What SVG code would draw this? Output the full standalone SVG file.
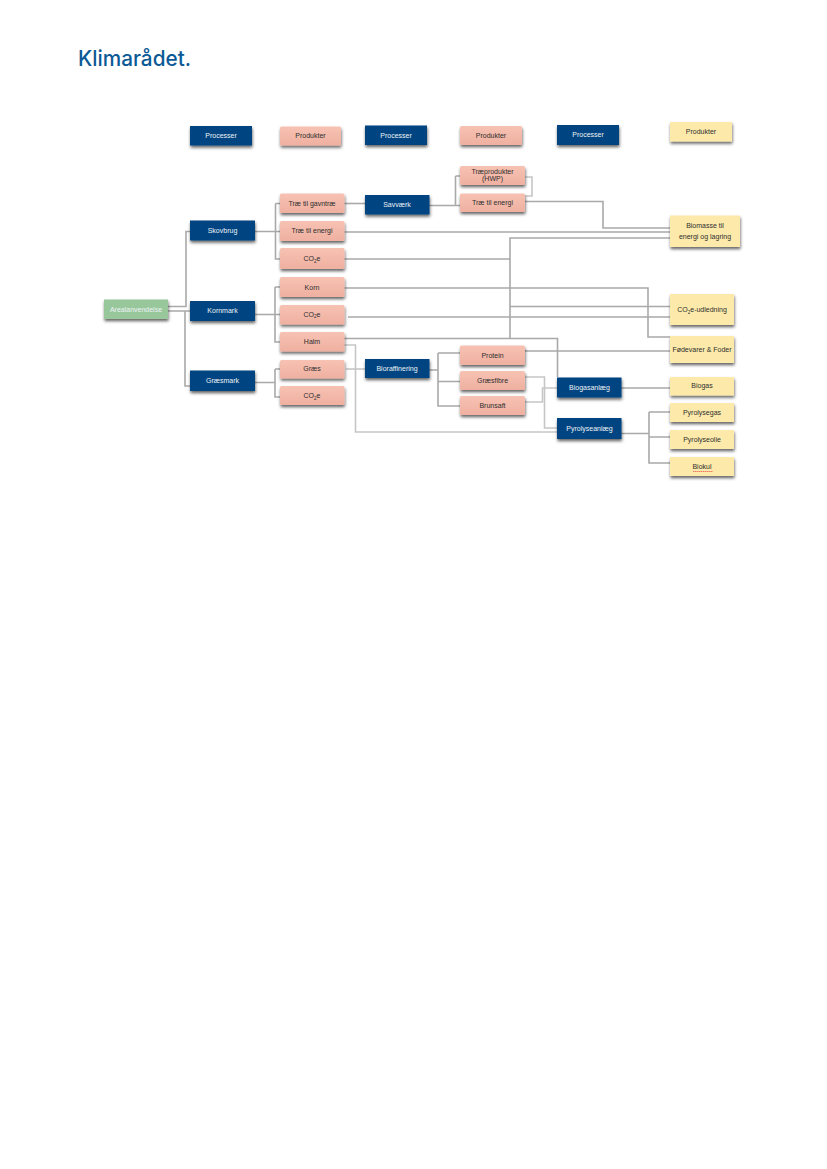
<svg xmlns="http://www.w3.org/2000/svg" width="827" height="1169" viewBox="0 0 827 1169">
<style>
text{font-family:"Liberation Sans",Arial,sans-serif;font-size:7px;text-anchor:middle;fill:#2e2e2e}
.p rect{fill:#004481}.p text,.g text{fill:#eef2f6}
.s rect{fill:url(#salmon)}
.y rect{fill:#fdeaaa}
.g rect{fill:#97c79b}
.n rect{filter:url(#sh)}
.c{fill:none;stroke:#a9a9a9;stroke-width:1.6}
.l{stroke:#c6c6c6}
.sub{font-size:4.6px}
#logo{font-family:Inter,"Liberation Sans",sans-serif;font-size:21px;font-weight:500;text-anchor:start;fill:#0b5a96}
</style>
<defs>
<linearGradient id="salmon" x1="0" y1="0" x2="0" y2="1"><stop offset="0" stop-color="#f7c2b3"/><stop offset="1" stop-color="#efb0a0"/></linearGradient>
<filter id="sh" x="-20%" y="-40%" width="140%" height="200%"><feDropShadow dx="0.5" dy="2.2" stdDeviation="1.6" flood-color="#000" flood-opacity="0.6"/></filter>
</defs>
<text id="logo" x="78" y="66" textLength="113" lengthAdjust="spacingAndGlyphs">Klimarådet.</text>
<g id="connectors">
<path class="c" d="M168 306.500H186V231.500H190M168 311H190M185 311V386H190"/>
<path class="c" d="M255 231.500H280M275.500 203.500H280M275.500 203.500V259H280"/>
<path class="c" d="M255 314.500H280M275 287H280M275 287V342H280"/>
<path class="c" d="M255 382.500H275M275 369H280M275 369V397H280"/>
<path class="c" d="M344 203.500H365"/>
<path class="c" d="M429 205.500H460M455.500 176H460M455.500 176V206"/>
<path class="c l" d="M525 177H532V196H525"/>
<path class="c" d="M525 201.500H603V228H670"/>
<path class="c" d="M344 232H670"/>
<path class="c" d="M344 259H510"/>
<path class="c" d="M670 238H510V338"/>
<path class="c" d="M510 306.500H670"/>
<path class="c" d="M348 317H670"/>
<path class="c" d="M344 288H648V337H670"/>
<path class="c" d="M344 338.500H557.500V377"/>
<path class="c l" d="M344 345H355.500V432H557"/>
<path class="c" d="M525 351H670"/>
<path class="c l" d="M346 369H365"/>
<path class="c" d="M429 370H438M438 353H460M438 353V406H460M438 381.500H460"/>
<path class="c l" d="M525 377H544.500V428H557"/>
<path class="c l" d="M525 402H542.500V388H557"/>
<path class="c" d="M621 388H670"/>
<path class="c" d="M621 433.500H649M649 412H670M649 412V463H670M649 437H670"/>
</g>
<g id="hdr1" class="n p"><rect x="190" y="126" width="62" height="19.500"/><text x="221" y="138">Processer</text></g>
<g id="hdr2" class="n s"><rect x="280" y="126.500" width="61" height="19" rx="1.500"/><text x="310.500" y="138">Produkter</text></g>
<g id="hdr3" class="n p"><rect x="365" y="125.500" width="62" height="19.500"/><text x="396" y="137.500">Processer</text></g>
<g id="hdr4" class="n s"><rect x="460" y="126" width="62" height="19" rx="1.500"/><text x="491" y="137.500">Produkter</text></g>
<g id="hdr5" class="n p"><rect x="557" y="125" width="62" height="20"/><text x="588" y="137">Processer</text></g>
<g id="hdr6" class="n y"><rect x="670" y="122" width="62" height="19.500"/><text x="701" y="133.500">Produkter</text></g>
<g id="arealanvendelse" class="n g"><rect x="104" y="299.500" width="64" height="19.500"/><text x="136" y="311.500">Arealanvendelse</text></g>
<g id="skovbrug" class="n p"><rect x="190" y="220.500" width="65" height="20"/><text x="222.500" y="232.500">Skovbrug</text></g>
<g id="kornmark" class="n p"><rect x="190" y="301" width="65" height="20"/><text x="222.500" y="313">Kornmark</text></g>
<g id="graesmark" class="n p"><rect x="190" y="370.500" width="65" height="20.500"/><text x="222.500" y="382.500">Græsmark</text></g>
<g id="gavntrae" class="n s"><rect x="280" y="193.500" width="64.500" height="19.500" rx="1.500"/><text x="312" y="205.500">Træ til gavntræ</text></g>
<g id="energi1" class="n s"><rect x="280" y="221" width="64.500" height="20" rx="1.500"/><text x="312" y="232.500">Træ til energi</text></g>
<g id="co2e1" class="n s"><rect x="280" y="248" width="64.500" height="21" rx="1.500"/><text x="312" y="261">CO<tspan class="sub" dy="1.500">2</tspan><tspan dy="-1.500">e</tspan></text></g>
<g id="korn" class="n s"><rect x="280" y="277" width="64.500" height="20" rx="1.500"/><text x="312" y="289.500">Korn</text></g>
<g id="co2e2" class="n s"><rect x="280" y="305" width="64.500" height="19.500" rx="1.500"/><text x="312" y="316.500">CO<tspan class="sub" dy="1.500">2</tspan><tspan dy="-1.500">e</tspan></text></g>
<g id="halm" class="n s"><rect x="280" y="332" width="64.500" height="19.500" rx="1.500"/><text x="312" y="343.500">Halm</text></g>
<g id="graes" class="n s"><rect x="280" y="360" width="64.500" height="18.500" rx="1.500"/><text x="312" y="371">Græs</text></g>
<g id="co2e3" class="n s"><rect x="280" y="386" width="64.500" height="19" rx="1.500"/><text x="312" y="398">CO<tspan class="sub" dy="1.500">2</tspan><tspan dy="-1.500">e</tspan></text></g>
<g id="savvaerk" class="n p"><rect x="365" y="195" width="64.500" height="19.500"/><text x="397" y="206.500">Savværk</text></g>
<g id="bioraffinering" class="n p"><rect x="365" y="359" width="64.500" height="19"/><text x="397" y="371">Bioraffinering</text></g>
<g id="traeprodukter" class="n s"><rect x="460" y="166" width="65" height="19" rx="1.500"/><text x="492.500" y="173.500">Træprodukter</text><text x="492.500" y="180.500">(HWP)</text></g>
<g id="energi2" class="n s"><rect x="460" y="193.500" width="65" height="18.500" rx="1.500"/><text x="492.500" y="205">Træ til energi</text></g>
<g id="protein" class="n s"><rect x="460" y="345.500" width="65" height="19.500" rx="1.500"/><text x="492.500" y="357.500">Protein</text></g>
<g id="graesfibre" class="n s"><rect x="460" y="371" width="65" height="19" rx="1.500"/><text x="492.500" y="382.500">Græsfibre</text></g>
<g id="brunsaft" class="n s"><rect x="460" y="396" width="65" height="19" rx="1.500"/><text x="492.500" y="407.500">Brunsaft</text></g>
<g id="biogasanlaeg" class="n p"><rect x="557" y="377.500" width="64.500" height="20"/><text x="589.500" y="390">Biogasanlæg</text></g>
<g id="pyrolyseanlaeg" class="n p"><rect x="557" y="418" width="64.500" height="21"/><text x="589.500" y="431">Pyrolyseanlæg</text></g>
<g id="biomasse" class="n y"><rect x="670" y="215.500" width="70" height="31.500"/><text x="705" y="228">Biomasse til</text><text x="705" y="239">energi og lagring</text></g>
<g id="udledning" class="n y"><rect x="670" y="294" width="64" height="31"/><text x="702" y="312">CO<tspan class="sub" dy="1.500">2</tspan><tspan dy="-1.500">e-udledning</tspan></text></g>
<g id="fodevarer" class="n y"><rect x="670" y="336" width="64" height="27"/><text x="702" y="352">Fødevarer &amp; Foder</text></g>
<g id="biogas" class="n y"><rect x="670" y="377" width="64" height="18.500"/><text x="702" y="388">Biogas</text></g>
<g id="pyrolysegas" class="n y"><rect x="670" y="403" width="64" height="19"/><text x="702" y="415">Pyrolysegas</text></g>
<g id="pyrolyseolie" class="n y"><rect x="670" y="430" width="64" height="19"/><text x="702" y="442">Pyrolyseolie</text></g>
<g id="biokul" class="n y"><rect x="670" y="457" width="64" height="19"/><text x="702" y="469">Biokul</text><path d="M693 471.500h20" stroke="#ee5a55" stroke-width="0.8" stroke-dasharray="1.500 0.500" fill="none"/></g>
</svg>
